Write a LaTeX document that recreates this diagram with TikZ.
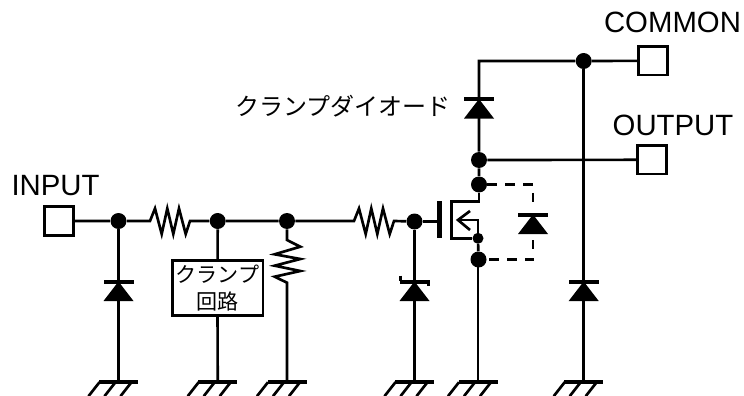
\documentclass[tikz,border=0pt]{standalone}
\usepackage{fontspec}
\setmainfont{Liberation Sans}
\newfontfamily\cjk{Noto Sans CJK JP}
\tikzset{
  wire/.style={line width=2pt},
  jdot/.style={circle,fill=black,draw=none,minimum size=12pt,inner sep=0pt},
  sdot/.style={circle,fill=black,draw=none,minimum size=8.25pt,inner sep=0pt},
  pad/.style={draw,line width=2pt,fill=white,minimum size=21.5pt,inner sep=0pt},
  lbl/.style={inner sep=0pt,font=\fontsize{22}{24}\selectfont},
  jlbl/.style={inner sep=0pt,font=\cjk\fontsize{18}{20}\selectfont},
  dashw/.style={wire,dash pattern=on 7pt off 6.5pt},
  dio/.pic={\fill (-15,0) -- (15,0) -- (0,-19.5) -- cycle;
    \fill (-15,-21.5) rectangle (15,-17.5);},
  gnd/.pic={\draw[line width=3pt] (-19.5,0) -- (19.5,0);
    \foreach \d in {-19,-3,13}{\draw[wire] (\d,0.5) -- (\d-11,14.5);}},
}
\begin{document}
\begin{tikzpicture}[x=0.75pt,y=-0.75pt]
\useasboundingbox (0,0) rectangle (744,396);
\node[pad] (pin) at (59,221) {};
\node[pad] (pcom) at (653,60.8) {};
\node[pad] (pout) at (652,159.8) {};
\node[lbl] (tin) at (55.5,185.5) {INPUT};
\node[lbl] (tcom) at (672.5,22) {COMMON};
\node[lbl] (tout) at (673,125) {OUTPUT};
\node[jlbl,anchor=east] (tcl) at (451,106) {クランプダイオード};
\foreach \n/\x/\y in {a/118.5/221,b/217.7/221,c/287/221,d/414.5/221.5,e/583.7/61,f/479/160,g/479/184.5,h/478.5/259.5}
  \node[jdot] (\n) at (\x,\y) {};
\node[sdot] (s) at (478,238.3) {};
\foreach \n/\x in {ga/118.5,gb/217.7,gc/287,gd/414.5,ge/478,gf/583.7}
  \coordinate (\n) at (\x,381.7);
\node[draw,line width=2pt,fill=white,minimum width=68pt,minimum height=41.5pt,inner sep=0pt,align=center,font=\cjk\fontsize{15.8}{20.8}\selectfont] (cl) at (217.5,288) {クランプ\\回路};
\coordinate (tc) at (479,61);
\begin{scope}[every path/.style={wire}]
\draw (pin) -- (a) -- (150,221) -- (155,208.5) -- (161.7,234) -- (167.3,208.5) -- (173.3,234) -- (179,208.5) -- (185.7,234) -- (190,221) -- (b) -- (c) -- (354,221) -- (359,208.5) -- (365.7,234) -- (371.3,208.5) -- (377.3,234) -- (383,208.5) -- (389.7,234) -- (394,221) -- (d);
\draw (c) -- (287,240) -- (300.3,246.7) -- (274.7,254.3) -- (300.3,259) -- (274.7,265.7) -- (300.3,271) -- (274.7,276.7) -- (287,282.7) -- (gc);
\draw (a) -- (ga);
\draw (b) -- (cl);
\draw (cl) -- (gb);
\draw (d) -- (gd);
\draw (e) -- (gf);
\draw (pcom) -- (e) -- (tc) -- (f) -- (g);
\draw (f) -- (pout);
\draw (d) -- (437,221.5);
\draw (g) -- (479,201.7) -- (451.7,201.7) -- (451.7,238.3) -- (s);
\draw (s) |- (458,220);
\draw (470,211) -- (458,220) -- (470,230);
\draw (s) -- (h);
\draw (478,259.5) -- (ge);
\draw[line width=3.75pt] (439,201) -- (439,238);
\draw[dashw] (g) -- (533,184.5) -- (533,206);
\draw[dashw] (533,240) -- (533,259.5) -- (h);
\end{scope}
\path (118.5,301) pic {dio} (414.5,301) pic {dio} (583.7,301) pic {dio} (479,118.5) pic {dio} (533,234) pic {dio};
\draw[wire] (400.7,275.5) -- (400.7,281) (428.5,281) -- (428.5,285.5);
\foreach \n in {ga,gb,gc,gd,ge,gf} \path (\n) pic {gnd};
\end{tikzpicture}
\end{document}
